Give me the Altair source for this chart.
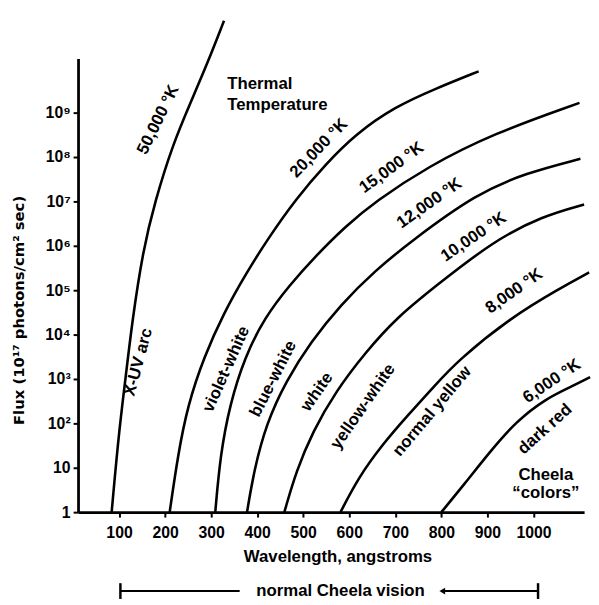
import json
import altair as alt
import pandas as pd

# ---- data (wavelength in angstroms, flux as power of ten) ----
temps = ["50,000", "20,000", "15,000", "12,000", "10,000", "8,000", "6,000"]

wl_50000 = [84, 99, 114, 129, 152, 178, 217, 255, 292, 328]
ex_50000 = [0, 1.73, 3.0, 4.33, 5.89, 7.0, 8.29, 9.22, 10.11, 11.07]

wl_20000 = [210, 228, 249, 285, 328, 371, 420, 485, 549, 613, 699, 785, 881]
ex_20000 = [0, 1.29, 2.4, 3.51, 4.49, 5.29, 6.11, 7.07, 7.84, 8.51, 9.13, 9.53, 9.93]

wl_15000 = [309, 320, 341, 373, 416, 470, 528, 592, 657, 770, 913, 1100]
ex_15000 = [0, 1.29, 2.44, 3.49, 4.38, 5.11, 5.78, 6.44, 7.0, 7.78, 8.53, 9.22]

wl_12000 = [378, 393, 420, 463, 517, 581, 656, 735, 877, 984, 1102]
ex_12000 = [0, 0.93, 2.0, 2.96, 3.84, 4.67, 5.44, 6.11, 7.18, 7.64, 7.96]

wl_10000 = [459, 485, 521, 570, 635, 705, 785, 913, 1020, 1110]
ex_10000 = [0, 0.93, 1.82, 2.71, 3.6, 4.4, 5.07, 6.11, 6.67, 6.93]

wl_8000 = [581, 620, 671, 727, 785, 834, 950, 1057, 1121]
ex_8000 = [0, 0.78, 1.51, 2.18, 2.84, 3.4, 4.38, 5.04, 5.4]

wl_6000 = [800, 849, 907, 962, 1027, 1085, 1123]
ex_6000 = [0, 0.62, 1.38, 2.04, 2.56, 2.84, 3.04]

x_ticks = [100, 200, 300, 400, 500, 600, 700, 800, 900, 1000]
y_ticks = [0, 1, 2, 3, 4, 5, 6, 7, 8, 9]
y_tick_labels = ["1", "10", "10²", "10³", "10⁴", "10⁵", "10⁶", "10⁷", "10⁸", "10⁹"]

# curve annotations: text, wavelength, flux exponent, rotation
label_text = ["50,000 °K", "20,000 °K", "15,000 °K", "12,000 °K", "10,000 °K", "8,000 °K", "6,000 °K",
              "X-UV arc", "violet-white", "blue-white", "white", "yellow-white", "normal yellow", "dark red",
              "Cheela", "\u201ccolors\u201d"]
label_wl = [185, 534, 692, 774, 870, 958, 1040,
            142, 333, 435, 530, 630, 780, 1025,
            1027, 1027]
label_ex = [8.84, 8.2, 7.76, 6.96, 6.2, 4.98, 2.95,
            3.38, 3.22, 3.0, 2.71, 2.38, 2.27, 1.87,
            0.84, 0.44]
label_angle = [296, 314, 324, 325, 326, 325, 326,
               285, 294, 297, 305, 305, 310, 318,
               0, 0]

thermal_text = ["Thermal", "Temperature"]
thermal_wl = [335, 335]
thermal_ex = [9.64, 9.16]

vision_text = "normal Cheela vision"
vision_mid = 581
vision_left = [103, 362]
vision_right = [802, 1010]

FONT = "Liberation Sans"

# ---- tables ----
curves = {
    "50,000": (wl_50000, ex_50000), "20,000": (wl_20000, ex_20000),
    "15,000": (wl_15000, ex_15000), "12,000": (wl_12000, ex_12000),
    "10,000": (wl_10000, ex_10000), "8,000": (wl_8000, ex_8000),
    "6,000": (wl_6000, ex_6000),
}
rows = []
for t in temps:
    wl, ex = curves[t]
    for i, (a, b) in enumerate(zip(wl, ex)):
        rows.append({"curve": t, "order": i, "wl": a, "ex": b})
df = pd.DataFrame(rows)

labels = pd.DataFrame({"text": label_text, "wl": label_wl, "ex": label_ex, "angle": label_angle})
thermal = pd.DataFrame({"text": thermal_text, "wl": thermal_wl, "ex": thermal_ex})

xs = alt.Scale(domain=[11, 1110], nice=False, zero=False)
ys = alt.Scale(domain=[0, 10.222], nice=False, zero=False)

label_expr = json.dumps(y_tick_labels, ensure_ascii=False) + "[round(datum.value)]"

lines = alt.Chart(df).mark_line(color="black", strokeWidth=2.6, interpolate="basis").encode(
    x=alt.X("wl:Q", scale=xs,
            axis=alt.Axis(values=x_ticks, format="d", title="Wavelength, angstroms", tickSize=5,
                          labelPadding=16, labelBaseline="middle", labelFontSize=16,
                          titleX=263, titleY=45, titleBaseline="middle")),
    y=alt.Y("ex:Q", scale=ys,
            axis=alt.Axis(values=y_ticks, labelExpr=label_expr, title="Flux (10¹⁷ photons/cm² sec)",
                          tickSize=5, labelPadding=3, labelFontSize=16,
                          titleFont="DejaVu Sans", titleFontSize=15,
                          titleX=-55, titleY=255, titleAlign="center", titleBaseline="alphabetic")),
    detail="curve:N",
    order="order:Q",
)

text_layer = alt.Chart(labels).mark_text(font=FONT, fontWeight="bold", fontSize=17, color="black",
                                         align="center", baseline="middle").encode(
    x=alt.X("wl:Q", scale=xs), y=alt.Y("ex:Q", scale=ys),
    text="text:N", angle=alt.Angle("angle:Q", scale=None),
)

thermal_layer = alt.Chart(thermal).mark_text(font=FONT, fontWeight="bold", fontSize=17, color="black",
                                             align="left", baseline="middle").encode(
    x=alt.X("wl:Q", scale=xs), y=alt.Y("ex:Q", scale=ys), text="text:N",
)

vis = pd.DataFrame({"x1": [vision_left[0], vision_right[0]], "x2": [vision_left[1], vision_right[1]]})
vis_lines = alt.Chart(vis).mark_rule(color="black", strokeWidth=2).encode(
    x=alt.X("x1:Q", scale=xs), x2="x2:Q", y=alt.value(540))
bars = pd.DataFrame({"x": [vision_left[0], vision_right[1]]})
vis_bars = alt.Chart(bars).mark_rule(color="black", strokeWidth=2.5).encode(
    x=alt.X("x:Q", scale=xs), y=alt.value(532), y2=alt.value(548))
arrow = alt.Chart(pd.DataFrame({"x": [vision_right[0]]})).mark_point(
    shape="triangle-left", filled=True, color="black", size=45, opacity=1).encode(
    x=alt.X("x:Q", scale=xs), y=alt.value(540))
vis_txt = alt.Chart(pd.DataFrame({"x": [vision_mid], "t": [vision_text]})).mark_text(
    font=FONT, fontWeight="bold", fontSize=17, color="black", align="center", baseline="middle").encode(
    x=alt.X("x:Q", scale=xs), y=alt.value(540), text="t:N")

chart = alt.layer(lines, text_layer, thermal_layer, vis_lines, vis_bars, arrow, vis_txt).properties(
    width=513, height=460,
    autosize=alt.AutoSizeParams(type="none"),
    padding={"left": 71, "top": 47, "right": 7, "bottom": 87},
    background="white",
).configure_view(stroke=None).configure_axis(
    grid=False, domainColor="black", domainWidth=2.8, tickColor="black", tickWidth=2,
    labelFont=FONT, labelFontWeight="bold", labelFontSize=16, labelColor="black",
    titleFont=FONT, titleFontWeight="bold", titleFontSize=17, titleColor="black",
)

chart.save("out.html", embed_options={"renderer": "svg", "actions": False})
